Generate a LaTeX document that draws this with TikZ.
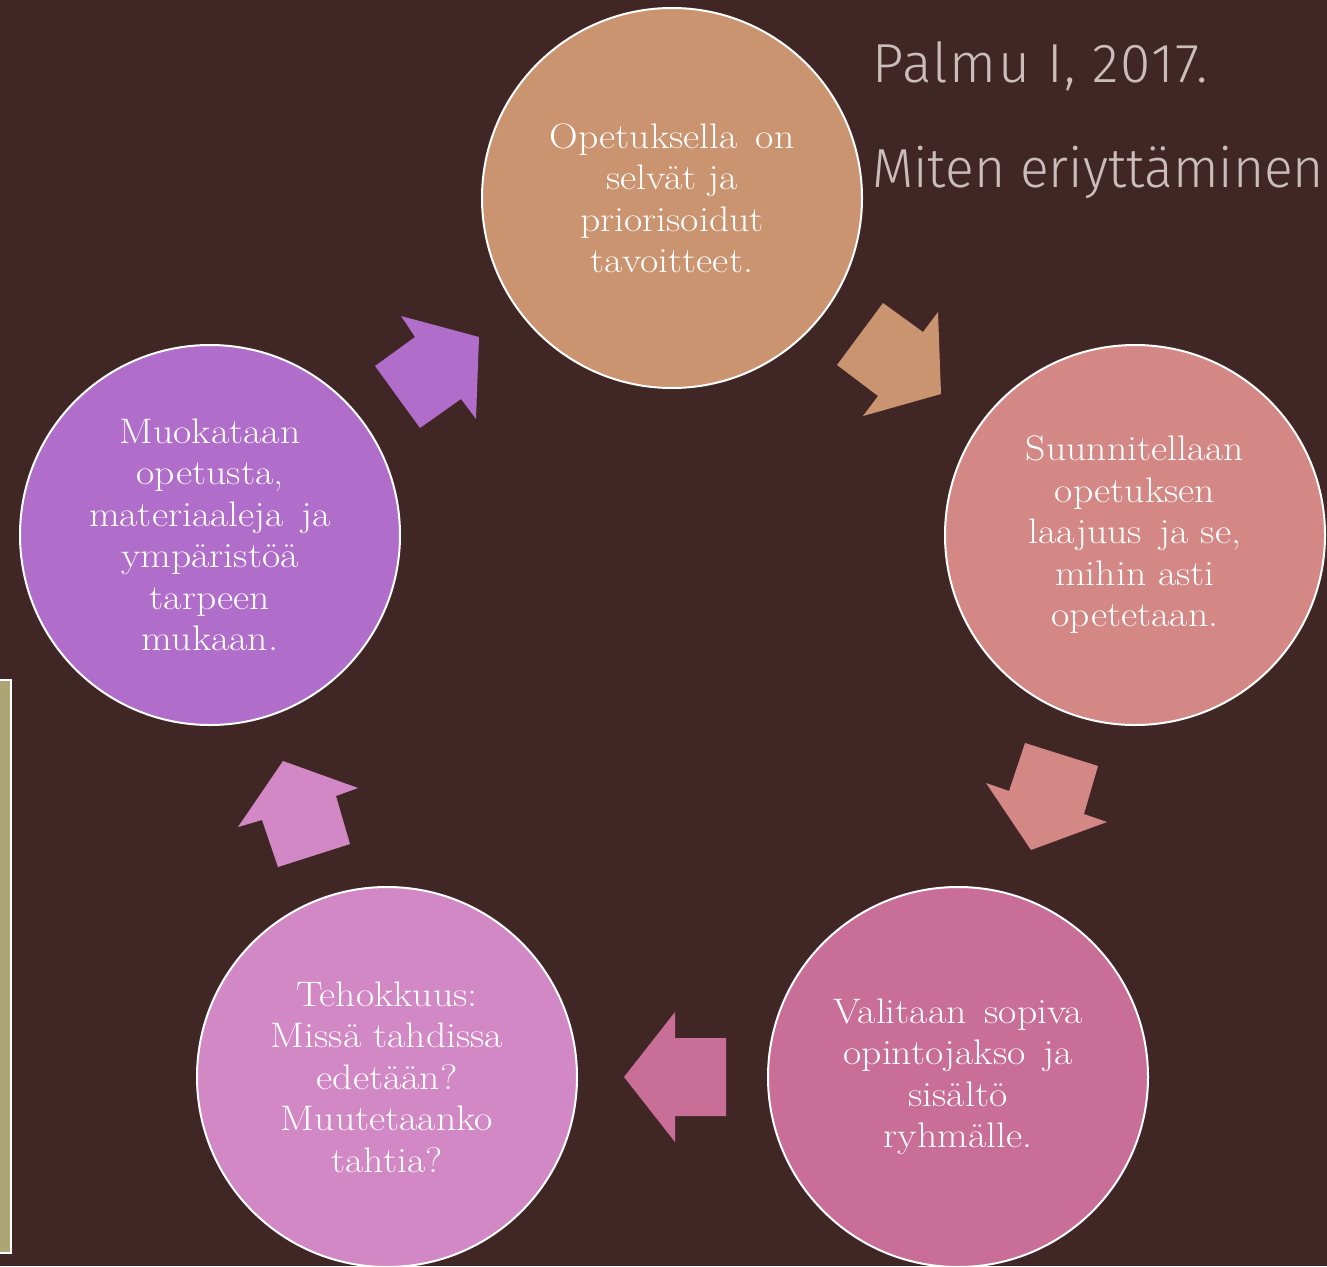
\documentclass[tikz,border=0pt]{standalone}
\usepackage{fontspec}
\newfontfamily\titlefont{Fira Sans Light}[LetterSpace=3]
\newfontfamily\titlefontb{Fira Sans Light}[FakeStretch=0.972]
\newfontfamily\circfont{Latin Modern Roman}[FakeStretch=1.12]
\definecolor{bg}{HTML}{402624}
\definecolor{tanbox}{HTML}{ADA574}
\definecolor{cA}{HTML}{CB9470}
\definecolor{cB}{HTML}{D48886}
\definecolor{cC}{HTML}{C96E96}
\definecolor{cD}{HTML}{D288C4}
\definecolor{cE}{HTML}{B06DC9}
\definecolor{titlecol}{HTML}{CBBDBC}
\tikzset{
  cyc/.style={circle, draw=white, line width=2pt, minimum size=380pt, inner sep=0pt,
    align=center, text=white, font=\circfont\fontsize{35.5}{41.5}\selectfont},
  ttl/.style={anchor=base west, inner sep=0pt, text=titlecol}
}
\newcommand{\dsp}{\hspace{0.5em}}
\begin{document}
\begin{tikzpicture}[x=1pt,y=-1pt]
\useasboundingbox (0,0) rectangle (1327,1266);
\clip (0,0) rectangle (1327,1266);
\fill[bg] (0,0) rectangle (1327,1266);
% left box
\draw[fill=tanbox, draw=white, line width=2pt] (-5,680) rectangle (11,1253);
% circles
\node[cyc, fill=cA] (c1) at (672,198) {Opetuksella\dsp on\\selvät ja\\priorisoidut\\tavoitteet.};
\node[cyc, fill=cB] (c2) at (1135,535) {Suunnitellaan\\opetuksen\\laajuus\dsp ja se,\\mihin asti\\opetetaan.};
\node[cyc, fill=cC] (c3) at (958,1077) {Valitaan\dsp sopiva\\opintojakso\dsp ja\\sisältö\\ryhmälle.};
\node[cyc, fill=cD] (c4) at (387,1077) {Tehokkuus:\\Missä tahdissa\\edetään?\\Muutetaanko\\tahtia?};
\node[cyc, fill=cE] (c5) at (210,535) {Muokataan\\opetusta,\\materiaaleja\dsp ja\\ympäristöä\\tarpeen\\mukaan.};
% block arrows
\fill[cA] (883,303) -- (923,332) -- (938,312) -- (941,394) -- (863,416) -- (878,396) -- (837,365) -- cycle;
\fill[cB] (1025,743) -- (1098,766) -- (1084,814) -- (1107,822) -- (1031,850) -- (986,783) -- (1009,791) -- cycle;
\fill[cC] (726,1038) -- (726,1116) -- (675,1116) -- (675,1142) -- (624,1077) -- (675,1012) -- (675,1038) -- cycle;
\fill[cD] (283,761) -- (358,788) -- (336,796) -- (350,844) -- (278,867) -- (262,820) -- (238,827) -- cycle;
\fill[cE] (401,316) -- (479,337) -- (476,419) -- (461,399) -- (420,428) -- (375,366) -- (415,337) -- cycle;
% title
\node[ttl, font=\titlefont\fontsize{55}{60}\selectfont] (t1) at (872,82) {Palmu I, 2017.};
\node[ttl, font=\titlefontb\fontsize{55}{60}\selectfont] (t2) at (872,187) {Miten eriyttäminen};
\end{tikzpicture}
\end{document}
